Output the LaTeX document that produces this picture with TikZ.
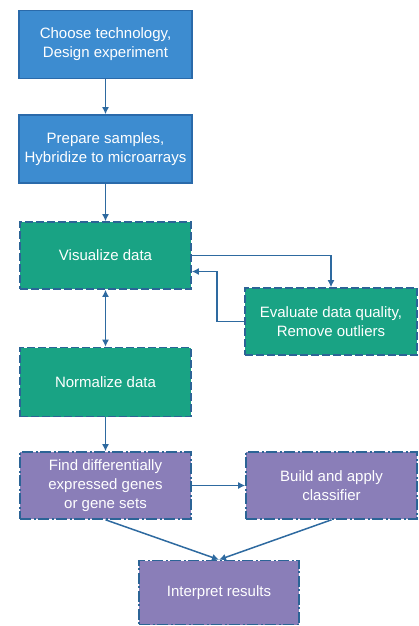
\documentclass[tikz,border=0pt]{standalone}
\usepackage{fontspec}
\setmainfont{Liberation Sans}
\usetikzlibrary{arrows.meta,calc}
\definecolor{bluefill}{HTML}{3D8CD0}
\definecolor{blueline}{HTML}{2A6AAA}
\definecolor{tealfill}{HTML}{19A384}
\definecolor{purplefill}{HTML}{8A7EB8}
\definecolor{edgecol}{HTML}{2C6496}
\definecolor{arrowcol}{HTML}{2E6AA0}
\tikzset{
  boxbase/.style={rectangle, text=white, align=center, font=\fontsize{15}{19}\selectfont, line width=1.6pt, inner sep=2pt},
  bluebox/.style={boxbase, fill=bluefill, draw=blueline, minimum width=173pt, minimum height=68pt},
  tealbox/.style={boxbase, fill=tealfill, draw=edgecol, dash pattern=on 8pt off 3pt, minimum width=171pt, minimum height=67pt},
  purplebox/.style={boxbase, fill=purplefill, draw=edgecol, dash pattern=on 11pt off 2.5pt on 2pt off 2.5pt, minimum width=171pt, minimum height=67pt},
  tip/.tip={Latex[length=7pt,width=7pt]},
  conn/.style={draw=arrowcol, line width=1.5pt, -tip},
}
\begin{document}
\begin{tikzpicture}[x=1pt,y=-1pt]
\useasboundingbox (0,0) rectangle (418,626);
\node[bluebox] (choose) at (105.5,44.5) {Choose technology,\\Design experiment};
\node[bluebox] (prep) at (105.5,149) {Prepare samples,\\Hybridize to microarrays};
\node[tealbox] (vis) at (105.5,255.5) {Visualize data};
\node[tealbox, minimum width=172pt] (eval) at (331,321.5) {Evaluate data quality,\\Remove outliers};
\node[tealbox, minimum height=69pt] (norm) at (105.5,382) {Normalize data};
\node[purplebox] (find) at (105.5,485.5) {Find differentially\\expressed genes\\or gene sets};
\node[purplebox] (build) at (331.5,485.5) {Build and apply\\classifier};
\node[purplebox, minimum width=160pt, minimum height=64pt] (interp) at (219,592.5) {Interpret results};
\draw[conn] (choose) -- (prep);
\draw[conn] (prep) -- (vis);
\draw[conn] (vis.east) -| (eval.north);
\coordinate (ret) at ($(eval.west)+(-27,0)$);
\draw[conn] (eval.west) -- (ret) |- ([yshift=-16pt]vis.east);
\draw[conn, tip-tip] (vis) -- (norm);
\draw[conn] (norm) -- (find);
\draw[conn] (find) -- (build);
\draw[conn] (find.south) -- (interp.north);
\draw[conn] (build.south) -- (interp.north);
\end{tikzpicture}
\end{document}
